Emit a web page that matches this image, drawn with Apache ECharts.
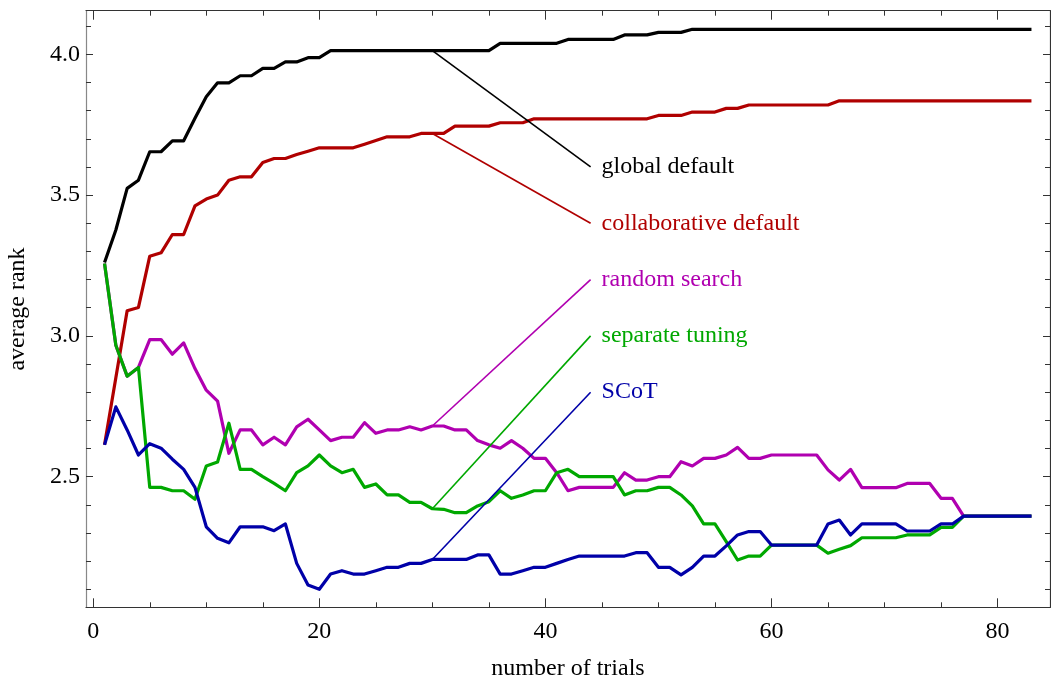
<!DOCTYPE html>
<html>
<head>
<meta charset="utf-8">
<script src="https://cdn.jsdelivr.net/npm/echarts@6/dist/echarts.min.js"></script>
<style>
html,body{margin:0;padding:0;background:#fff;}
#chart{width:1051px;height:684px;}
</style>
</head>
<body>
<div id="chart"></div>
<script>
const trials = [1,2,3,4,5,6,7,8,9,10,11,12,13,14,15,16,17,18,19,20,21,22,23,24,25,26,27,28,29,30,31,32,33,34,35,36,37,38,39,40,41,42,43,44,45,46,47,48,49,50,51,52,53,54,55,56,57,58,59,60,61,62,63,64,65,66,67,68,69,70,71,72,73,74,75,76,77,78,79,80,81,82,83];

const globalDefault = [3.261,3.376,3.524,3.553,3.654,3.654,3.693,3.693,3.773,3.849,
  3.899,3.899,3.924,3.924,3.950,3.950,3.973,3.973,3.988,3.988,
  4.013,4.013,4.013,4.013,4.013,4.013,4.013,4.013,4.013,4.013,
  4.013,4.013,4.013,4.013,4.013,4.039,4.039,4.039,4.039,4.039,
  4.039,4.053,4.053,4.053,4.053,4.053,4.069,4.069,4.069,4.078,
  4.078,4.078,4.089,4.089,4.089,4.089,4.089,4.089,4.089,4.089,
  4.089,4.089,4.089,4.089,4.089,4.089,4.089,4.089,4.089,4.089,
  4.089,4.089,4.089,4.089,4.089,4.089,4.089,4.089,4.089,4.089,
  4.089,4.089,4.089];

const collaborativeDefault = [2.613,2.851,3.089,3.101,3.283,3.295,3.360,3.360,3.462,3.486,
  3.500,3.553,3.565,3.565,3.616,3.630,3.630,3.644,3.656,3.668,
  3.668,3.668,3.668,3.681,3.694,3.707,3.707,3.707,3.719,3.719,
  3.719,3.745,3.745,3.745,3.745,3.757,3.757,3.757,3.771,3.771,
  3.771,3.771,3.771,3.771,3.771,3.771,3.771,3.771,3.771,3.783,
  3.783,3.783,3.795,3.795,3.795,3.808,3.808,3.820,3.820,3.820,
  3.820,3.820,3.820,3.820,3.820,3.835,3.835,3.835,3.835,3.835,
  3.835,3.835,3.835,3.835,3.835,3.835,3.835,3.835,3.835,3.835,
  3.835,3.835,3.835];

const randomSearch = [3.257,2.967,2.857,2.888,2.987,2.987,2.935,2.975,2.884,2.807,
  2.768,2.583,2.666,2.666,2.613,2.640,2.613,2.677,2.704,2.666,
  2.628,2.640,2.640,2.692,2.654,2.666,2.666,2.677,2.666,2.680,
  2.680,2.666,2.666,2.628,2.613,2.601,2.628,2.601,2.565,2.565,
  2.514,2.450,2.462,2.462,2.462,2.462,2.514,2.488,2.488,2.500,
  2.500,2.553,2.538,2.565,2.565,2.577,2.604,2.565,2.565,2.577,
  2.577,2.577,2.577,2.577,2.524,2.488,2.526,2.461,2.461,2.461,
  2.461,2.476,2.476,2.476,2.423,2.423,2.360,2.360,2.360,2.360,
  2.360,2.360,2.360];

const separateTuning = [3.257,2.967,2.857,2.888,2.462,2.462,2.450,2.450,2.420,2.538,
  2.552,2.690,2.526,2.526,2.500,2.476,2.450,2.514,2.538,2.577,
  2.538,2.514,2.526,2.462,2.474,2.435,2.435,2.409,2.409,2.386,
  2.384,2.372,2.372,2.396,2.411,2.450,2.423,2.435,2.450,2.450,
  2.514,2.526,2.500,2.500,2.500,2.500,2.435,2.450,2.450,2.462,
  2.462,2.435,2.396,2.332,2.332,2.269,2.204,2.218,2.218,2.257,
  2.257,2.257,2.257,2.257,2.228,2.242,2.255,2.283,2.283,2.283,
  2.283,2.293,2.293,2.293,2.320,2.320,2.360,2.360,2.360,2.360,
  2.360,2.360,2.360];

const scot = [2.613,2.748,2.666,2.577,2.617,2.601,2.562,2.526,2.462,2.322,
  2.281,2.265,2.322,2.322,2.322,2.308,2.332,2.192,2.115,2.100,
  2.154,2.166,2.154,2.154,2.166,2.178,2.178,2.192,2.192,2.206,
  2.206,2.206,2.206,2.222,2.222,2.154,2.154,2.166,2.178,2.178,
  2.192,2.206,2.218,2.218,2.218,2.218,2.218,2.230,2.230,2.178,
  2.178,2.151,2.178,2.218,2.218,2.254,2.293,2.305,2.305,2.257,
  2.257,2.257,2.257,2.257,2.332,2.346,2.293,2.332,2.332,2.332,
  2.332,2.307,2.307,2.307,2.332,2.332,2.360,2.360,2.360,2.360,
  2.360,2.360,2.360];

const seriesNames = ['global default','collaborative default','random search','separate tuning','SCoT'];
const seriesColors = ['#000000','#B00000','#B000B0','#00A800','#0000A8'];
const calloutFromTrial = 30;
const calloutToTrial = 44;
const calloutY = [3.6, 3.4, 3.2, 3.0, 2.8];

const xMinorTicks = [0,5,10,15,20,25,30,35,40,45,50,55,60,65,70,75,80];
const xMajorTicks = [0,20,40,60,80];
const yMinorTicks = [2.1,2.2,2.3,2.4,2.5,2.6,2.7,2.8,2.9,3.0,3.1,3.2,3.3,3.4,3.5,3.6,3.7,3.8,3.9,4.0,4.1];
const yMajorTicks = [2.5,3.0,3.5,4.0];

const FONT = "'Liberation Serif','Times New Roman',serif";
const allSeries = [globalDefault, collaborativeDefault, randomSearch, separateTuning, scot];
const drawOrder = [0,1,2,3,4];

const XMIN = -0.64, XMAX = 84.64, YMIN = 2.036, YMAX = 4.155;

function xAx(pos, ticks, len, labels, name, lineShow, lineColor) {
  return {
    type: 'value', position: pos, min: XMIN, max: XMAX,
    axisLine: {show: lineShow, onZero: false, lineStyle: {color: lineColor, width: 1.2}},
    axisTick: {show: true, inside: true, length: len, customValues: ticks, lineStyle: {color: '#333', width: 1}},
    axisLabel: labels ? {show: true, customValues: xMajorTicks, fontFamily: FONT, fontSize: 24, color: '#000', margin: 12} : {show: false},
    splitLine: {show: false},
    name: name || '', nameLocation: 'middle', nameGap: 49,
    nameTextStyle: {fontFamily: FONT, fontSize: 24, color: '#000'}
  };
}
function yAx(pos, ticks, len, labels, name, lineShow, lineColor) {
  return {
    type: 'value', position: pos, min: YMIN, max: YMAX,
    axisLine: {show: lineShow, onZero: false, lineStyle: {color: lineColor, width: 1.2}},
    axisTick: {show: true, inside: true, length: len, customValues: ticks, lineStyle: {color: '#333', width: 1}},
    axisLabel: labels ? {show: true, customValues: yMajorTicks, formatter: v => v.toFixed(1), fontFamily: FONT, fontSize: 24, color: '#000', margin: 6} : {show: false},
    splitLine: {show: false},
    name: name || '', nameLocation: 'middle', nameGap: 56, nameRotate: 90,
    nameTextStyle: {fontFamily: FONT, fontSize: 24, color: '#000'}
  };
}

const series = [];
drawOrder.forEach(i => {
  series.push({
    type: 'line', name: seriesNames[i], xAxisIndex: 0, yAxisIndex: 0,
    data: trials.map((t, k) => [t, allSeries[i][k]]),
    showSymbol: false, symbol: 'none', smooth: false,
    lineStyle: {color: seriesColors[i], width: 3.2, join: 'round'},
    z: 2 + i, silent: true
  });
});
seriesNames.forEach((nm, i) => {
  const k = trials.indexOf(calloutFromTrial);
  series.push({
    type: 'line', name: nm, xAxisIndex: 0, yAxisIndex: 0,
    data: [[calloutFromTrial, allSeries[i][k]], [calloutToTrial, calloutY[i]]],
    showSymbol: false, symbol: 'none',
    lineStyle: {color: seriesColors[i], width: 1.6},
    endLabel: {show: true, formatter: nm, distance: 11, fontFamily: FONT, fontSize: 24, color: seriesColors[i]},
    z: 10, silent: true
  });
});

const chart = echarts.init(document.getElementById('chart'), null, {renderer: 'canvas'});
chart.setOption({
  animation: false,
  backgroundColor: '#fff',
  grid: {left: 86, right: 1, top: 10.7, bottom: 76.7, containLabel: false, outerBoundsMode: 'none'},
  xAxis: [
    xAx('bottom', xMinorTicks, 5, true, 'number of trials', true, '#333'),
    xAx('bottom', xMajorTicks, 9, false, '', false, '#333'),
    xAx('top', xMinorTicks, 5, false, '', true, '#333'),
    xAx('top', xMajorTicks, 9, false, '', false, '#333')
  ],
  yAxis: [
    yAx('left', yMinorTicks, 5, true, 'average rank', true, '#888'),
    yAx('left', yMajorTicks, 7, false, '', false, '#888'),
    yAx('right', yMinorTicks, 5, false, '', true, '#333'),
    yAx('right', yMajorTicks, 7, false, '', false, '#333')
  ],
  series: series
});
</script>
</body>
</html>
